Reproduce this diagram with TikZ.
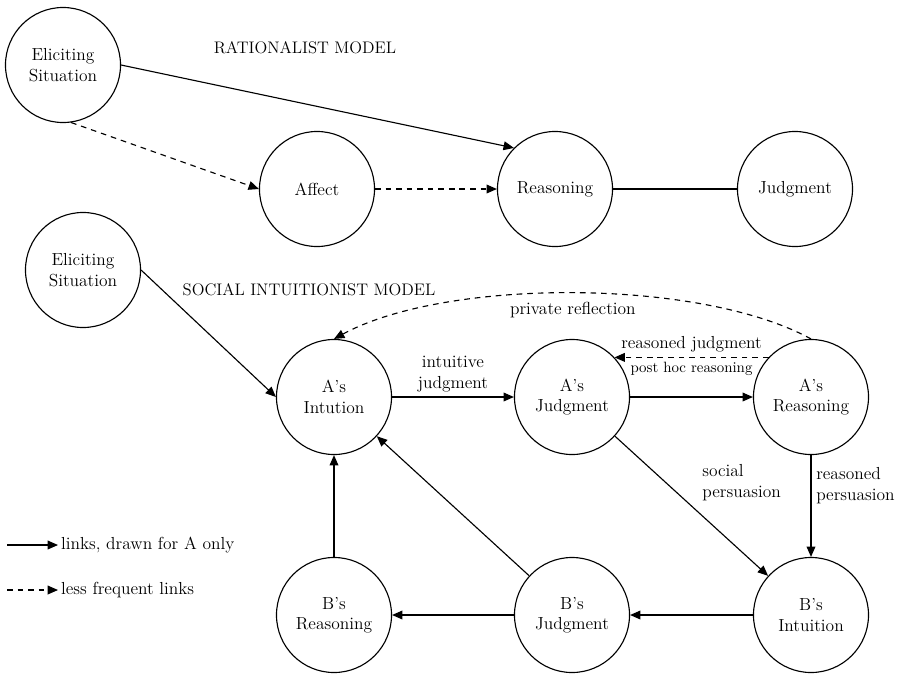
\documentclass[tikz,border=0pt]{standalone}
\usepackage{tikz}
\usetikzlibrary{arrows.meta, positioning}

\begin{document}
\begin{tikzpicture}[
  x=0.025cm, y=-0.025cm,
  bubble/.style={draw, circle, line width=0.8pt, minimum size=2.875cm, inner sep=0pt, align=center, font=\fontsize{12.4}{14.5}\selectfont},
  link/.style={line width=0.8pt, -{Triangle[length=2.6mm, width=2.2mm]}},
  rare/.style={link, dash pattern=on 4pt off 3.5pt},
  every node/.style={font=\fontsize{12.4}{14.5}\selectfont}
]
  \useasboundingbox (0,0) rectangle (902,673);

  % Rationalist model
  \node[bubble] (es1) at (63,65) {Eliciting\\Situation};
  \node[bubble] (affect) at (317,189) {Affect};
  \node[bubble] (reas) at (555,189) {Reasoning};
  \node[bubble] (judg) at (795,189) {Judgment};
  \node[font=\fontsize{11.9}{14}\selectfont] (rattitle) at (305,48) {RATIONALIST MODEL};

  \draw[link] (es1.east) -- (reas.135);
  \draw[rare] (es1.-82) -- (affect.west);
  \draw[rare] (affect) -- (reas);
  \draw[line width=0.8pt] (reas) -- (judg);

  % Social intuitionist model
  \node[bubble] (es2) at (83,270) {Eliciting\\Situation};
  \node[font=\fontsize{11.9}{14}\selectfont] (sititle) at (309,290) {SOCIAL INTUITIONIST MODEL};
  \node[bubble] (ai) at (334,397) {A's\\Intution};
  \node[bubble] (aj) at (572,397) {A's\\Judgment};
  \node[bubble] (ar) at (811,397) {A's\\Reasoning};
  \node[bubble] (br) at (334,615) {B's\\Reasoning};
  \node[bubble] (bj) at (572,615) {B's\\Judgment};
  \node[bubble] (bi) at (811,615) {B's\\Intuition};

  \draw[link] (es2.east) -- (ai.west);
  \draw[link] (ai) -- node[midway, above, align=center] {intuitive\\judgment} (aj);
  \draw[link] (aj) -- (ar);
  \draw[rare] (ar.137) -- node[midway, above] {reasoned judgment}
    node[midway, below, font=\fontsize{10.6}{12}\selectfont] {post hoc reasoning} (aj.43);
  \draw[rare] (ar.north) .. controls (700,278) and (446,278) .. node[midway, below, yshift=-3pt] {private reflection} (ai.north);
  \draw[link] (aj) -- node[midway, above right, align=left, xshift=4pt] {social\\persuasion} (bi);
  \draw[link] (ar) -- node[pos=0.3, right, align=left] {reasoned\\persuasion} (bi);
  \draw[link] (bi) -- (bj);
  \draw[link] (bj) -- (br);
  \draw[link] (br) -- (ai);
  \draw[link] (bj) -- (ai);

  % Legend
  \coordinate (l1) at (7,545);
  \coordinate (l2) at (7,590);
  \node[right, inner sep=2pt] (leg1) at (58,545) {links, drawn for A only};
  \node[right, inner sep=2pt] (leg2) at (58,590) {less frequent links};
  \draw[link] (l1) -- (leg1.west);
  \draw[rare] (l2) -- (leg2.west);

\end{tikzpicture}
\end{document}
